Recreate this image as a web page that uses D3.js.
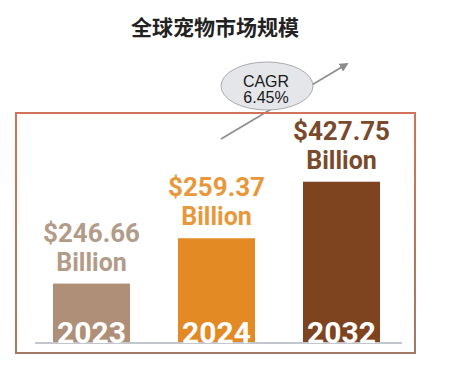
<!DOCTYPE html>
<html><head><meta charset="utf-8">
<script src="https://cdn.jsdelivr.net/npm/d3@7"></script>
<style>html,body{margin:0;padding:0;background:#fff;}svg{display:block;}</style>
</head><body>
<svg id="c" width="456" height="382"></svg>
<script>
const title = "全球宠物市场规模";
const years = ["2023", "2024", "2032"];
const values = [246.66, 259.37, 427.75];
const unit = "Billion";
const cagrLabel = ["CAGR", "6.45%"];

const barColors = ["#b08f78", "#e38a25", "#7e4420"];
const textColors = ["#b39b89", "#e8983a", "#7a4a2c"];

const svg = d3.select("#c");
const defs = svg.append("defs");
const g = defs.append("linearGradient").attr("id","bx").attr("x1",0).attr("y1",0).attr("x2",0).attr("y2",1);
g.append("stop").attr("offset","0%").attr("stop-color","#d0735a");
g.append("stop").attr("offset","100%").attr("stop-color","#a07a66");
defs.append("marker").attr("id","ah").attr("viewBox","0 0 10 10").attr("refX",8).attr("refY",5)
  .attr("markerWidth",6).attr("markerHeight",6).attr("orient","auto")
  .append("path").attr("d","M0,0L10,5L0,10z").attr("fill","#8c8c8c");

svg.append("text").attr("x",215).attr("y",35).attr("text-anchor","middle")
  .style("font-family","'Noto Sans CJK SC', sans-serif").style("font-weight","700")
  .style("font-size","21px").attr("fill","#222").text(title);

const x = d3.scaleBand().domain(years).range([29, 404]).paddingInner(0.384).paddingOuter(0.192);
// broken (polylinear) value scale, as in the infographic
const y = d3.scaleLinear().domain([230, 260, 430]).range([343, 236, 181]);

// CAGR arrow (behind box & ellipse)
svg.append("line").attr("x1",221).attr("y1",139).attr("x2",347).attr("y2",64)
  .attr("stroke","#8c8c8c").attr("stroke-width",1.5).attr("marker-end","url(#ah)");

// frame
svg.append("rect").attr("x",16).attr("y",113).attr("width",399).attr("height",240)
  .attr("fill","none").attr("stroke","url(#bx)").attr("stroke-width",2);

// ellipse
svg.append("ellipse").attr("cx",267).attr("cy",86).attr("rx",46).attr("ry",24)
  .attr("fill","#e4e6ea").attr("stroke","#a9abae").attr("stroke-width",1);
svg.append("g").selectAll("text").data(cagrLabel).join("text")
  .attr("x",266).attr("y",(d,i)=>87+i*16).attr("text-anchor","middle")
  .style("font-family","'Liberation Sans', Arial, sans-serif").style("font-size","16px")
  .attr("fill","#1a1a1a").text(d=>d);

// bars
const bars = svg.append("g");
bars.selectAll("rect").data(values).join("rect")
  .attr("x",(d,i)=>x(years[i])).attr("width",x.bandwidth())
  .attr("y",d=>y(d)).attr("height",d=>y.range()[0]-y(d))
  .attr("fill",(d,i)=>barColors[i]);

// baseline
svg.append("line").attr("x1",35).attr("x2",402).attr("y1",343).attr("y2",343)
  .attr("stroke","#c3c6cc").attr("stroke-width",2);

// year labels
svg.append("g").selectAll("text").data(years).join("text")
  .attr("x",d=>x(d)+x.bandwidth()/2).attr("y",343).attr("text-anchor","middle")
  .style("font-family","Roboto, sans-serif").style("font-weight","700").style("font-size","30px")
  .attr("fill","#fff").text(d=>d);

// value labels
const lab = svg.append("g").style("font-family","Roboto, sans-serif").style("font-weight","700");
lab.selectAll("text.v").data(values).join("text").attr("class","v")
  .attr("x",(d,i)=>x(years[i])+x.bandwidth()/2).attr("y",d=>y(d)-42).attr("text-anchor","middle")
  .style("font-size","26px").attr("fill",(d,i)=>textColors[i]).text(d=>"$"+d.toFixed(2));
lab.selectAll("text.u").data(values).join("text").attr("class","u")
  .attr("x",(d,i)=>x(years[i])+x.bandwidth()/2).attr("y",d=>y(d)-13).attr("text-anchor","middle")
  .style("font-size","25px").attr("fill",(d,i)=>textColors[i]).text(unit);
</script>
</body></html>
